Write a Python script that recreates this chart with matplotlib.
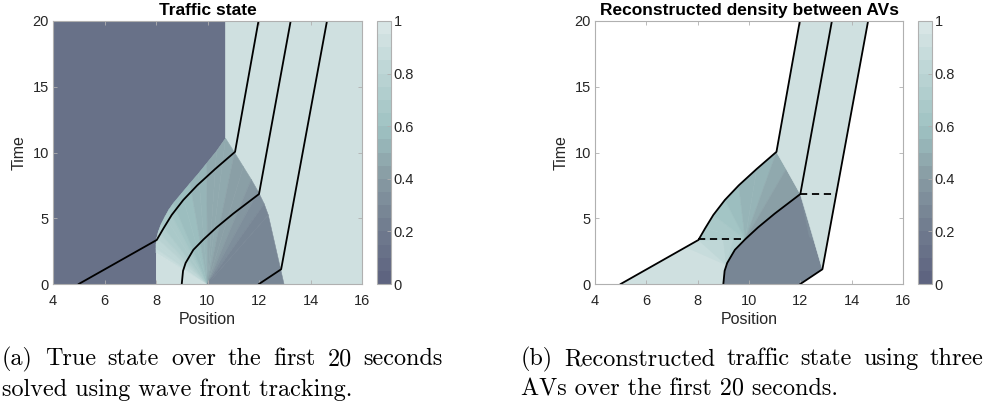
import numpy as np
import matplotlib
matplotlib.use('Agg')
import matplotlib.pyplot as plt
from matplotlib.collections import PolyCollection
from matplotlib.colors import LinearSegmentedColormap, Normalize

plt.rcParams['font.family'] = ['Liberation Sans', 'DejaVu Sans']

W, H = 985, 404

# vehicle (AV) trajectories
traj1_x = [5.0, 8.03, 8.29, 8.61, 9.06, 9.6, 10.3, 11.07, 11.98]
traj1_t = [0.0, 3.35, 4.23, 5.25, 6.39, 7.5, 8.75, 10.05, 20.0]
traj2_x = [9.0, 9.05, 9.15, 9.45, 9.85, 10.35, 11.0, 12.0, 13.23]
traj2_t = [0.0, 1.0, 1.6, 2.6, 3.4, 4.3, 5.35, 6.84, 20.0]
traj3_x = [12.0, 12.86, 14.64]
traj3_t = [0.0, 1.12, 20.0]

# dashed measurement lines in the reconstruction
dash_t = [3.4, 6.84]
dash_x0 = [8.03, 12.0]
dash_x1 = [9.85, 13.40]

# true state: densities
rho_free = 0.10
rho_jam = 0.93
fan_origin = (10.0, 0.0)
# outer boundary of the rarefaction fan (wedges from fan_origin)
fan_x = [8.0, 8.0, 8.0, 8.0, 8.03, 8.09, 8.2, 8.35, 8.5, 8.67, 9.0, 9.32,
         9.65, 9.97, 10.35, 10.7, 11.05, 11.39, 11.7, 11.97, 12.2, 12.36, 12.97]
fan_t = [0.0, 2.38, 2.7, 3.0, 3.5, 3.98, 4.55, 5.12, 5.65, 6.13, 6.9, 7.65,
         8.4, 9.18, 10.1, 11.08, 10.0, 8.92, 7.95, 7.02, 6.1, 5.25, 0.0]
fan_rho = [0.93, 0.88, 0.84, 0.80, 0.76, 0.72, 0.68, 0.65, 0.62, 0.59, 0.56,
           0.53, 0.51, 0.49, 0.47, 0.45, 0.43, 0.40, 0.37, 0.33, 0.29, 0.25]
apex_idx = 15
shock_idx = 3

# reconstruction: lower fan between AV1 and AV2
rec1_focal = (9.12, 1.45)
rec1_x = [7.55, 8.03, 8.5, 9.0, 9.4, 9.85]
rec1_t = [2.8, 3.35, 3.4, 3.4, 3.4, 3.4]
rec1_rho = [0.88, 0.84, 0.80, 0.76, 0.72]
# upper fan between AV1 and AV2
rec2_focal = (9.85, 3.4)
rec2_x = [8.03, 8.29, 8.61, 9.06, 9.6, 10.3, 11.07, 11.45, 12.0]
rec2_t = [3.35, 4.23, 5.25, 6.39, 7.5, 8.75, 10.05, 8.75, 6.84]
rec2_rho = [0.68, 0.65, 0.61, 0.57, 0.53, 0.50, 0.46, 0.42, 0.40]
rho_gap = 0.25
rho_gap_edge = 0.31

cmap = LinearSegmentedColormap.from_list(
    'traffic', [(0, '#5e6480'), (0.2, '#717c8f'), (0.4, '#879ba3'),
                (0.6, '#9fc2c2'), (0.8, '#b9d3d3'), (1, '#d7e5e5')], N=20)
norm = Normalize(0, 1)


def rect(x0, y0, x1, y1):
    return [x0 / W, 1 - y1 / H, (x1 - x0) / W, (y1 - y0) / H]


def add_polys(ax, polys, rhos):
    pc = PolyCollection(polys, cmap=cmap, norm=norm, edgecolors='face', linewidths=0.4)
    pc.set_array(np.array(rhos))
    ax.add_collection(pc)
    return pc


fig = plt.figure(figsize=(W / 100, H / 100), dpi=100)
ax1 = fig.add_axes(rect(53, 21, 362, 284))
cax1 = fig.add_axes(rect(377, 21, 391, 284))
ax2 = fig.add_axes(rect(595, 21, 903, 284))
cax2 = fig.add_axes(rect(918, 21, 932, 284))

# ---- (a) true state
fan = list(zip(fan_x, fan_t))
polys, rhos = [], []
dark = [(4, 0), (8, 0)] + fan[shock_idx:apex_idx + 1] + [(fan_x[apex_idx], 20), (4, 20)]
light = fan[apex_idx:] + [(16, 0), (16, 20), (fan_x[apex_idx], 20)]
polys += [dark, light]
rhos += [rho_free, rho_jam]
for i in range(len(fan) - 1):
    polys.append([fan_origin, fan[i], fan[i + 1]])
    rhos.append(fan_rho[i])
pc1 = add_polys(ax1, polys, rhos)

# ---- (b) reconstruction
t1 = list(zip(traj1_x, traj1_t))
t2 = list(zip(traj2_x, traj2_t))
t3 = list(zip(traj3_x, traj3_t))
polys, rhos = [], []
# between AV1 and AV2, below first dashed line
polys.append(t1[:2] + t2[4::-1])
rhos.append(rho_jam)
r1 = list(zip(rec1_x, rec1_t))
for i in range(len(r1) - 1):
    p = [rec1_focal, r1[i], r1[i + 1]]
    if i == len(r1) - 2:
        p.append(t2[3])
    polys.append(p)
    rhos.append(rec1_rho[i])
# upper fan
r2 = list(zip(rec2_x, rec2_t))
for i in range(len(r2) - 1):
    polys.append([rec2_focal, r2[i], r2[i + 1]])
    rhos.append(rec2_rho[i])
polys.append([rec2_focal, r2[-1], t2[6], t2[5]])
rhos.append(rec2_rho[-1])
# light above the fan
polys.append([t1[7], t1[8], t2[8], t2[7], r2[7]])
rhos.append(rho_jam)
# between AV2 and AV3
polys.append(t2[:8] + [t3[1], t3[0]])
rhos.append(rho_gap)
polys.append([t2[7], (12.55, 3.2), (12.35, 3.6)])
rhos.append(rho_gap_edge)
polys.append([t2[7], t2[8], t3[2], t3[1]])
rhos.append(rho_jam)
pc2 = add_polys(ax2, polys, rhos)

dash_style = dict(color='k', lw=1.3, dashes=(4, 2.6))
for ax in (ax1, ax2):
    for xs, ts in ((traj1_x, traj1_t), (traj2_x, traj2_t), (traj3_x, traj3_t)):
        ax.plot(xs, ts, color='k', lw=1.3, zorder=3)
for t, xa, xb in zip(dash_t, dash_x0, dash_x1):
    ax2.plot([xa, xb], [t, t], zorder=3, **dash_style)

axis_grey = '#b0b0b0'
text_col = '#262626'
for ax, title in ((ax1, 'Traffic state'), (ax2, 'Reconstructed density between AVs')):
    ax.set_xlim(4, 16)
    ax.set_ylim(0, 20)
    ax.set_xticks(range(4, 17, 2))
    ax.set_yticks(range(0, 21, 5))
    ax.tick_params(direction='in', length=3, width=0.6, color=axis_grey,
                   labelsize=10.5, labelcolor=text_col, top=True, right=True)
    ax.tick_params(axis='x', pad=7)
    ax.tick_params(axis='y', pad=3)
    for s in ax.spines.values():
        s.set_color(axis_grey)
        s.set_linewidth(0.8)
        s.set_zorder(4)
    ax.set_xlabel('Position', fontsize=11.5, color=text_col, labelpad=3)
    ax.set_ylabel('Time', fontsize=11.5, color=text_col, labelpad=4)
    ax.set_title(title, fontsize=12.5, fontweight='bold', pad=4)

for cax, pc in ((cax1, pc1), (cax2, pc2)):
    cb = fig.colorbar(pc, cax=cax, ticks=[0, 0.2, 0.4, 0.6, 0.8, 1])
    cb.ax.set_yticklabels(['0', '0.2', '0.4', '0.6', '0.8', '1'])
    cb.outline.set_edgecolor(axis_grey)
    cb.outline.set_linewidth(0.8)
    cax.tick_params(direction='in', length=3, width=0.6, color=axis_grey,
                    labelsize=10.5, labelcolor=text_col, pad=2)

# captions, justified like the LaTeX source
cap_kw = dict(family='cmr10', fontsize=17.4, va='baseline', color='k')
renderer = fig.canvas.get_renderer()


def justify(words, x0, x1, y):
    ts = [fig.text(0, 1 - y / H, w, **cap_kw) for w in words]
    ws = [t.get_window_extent(renderer).width for t in ts]
    gap = max((x1 - x0 - sum(ws)) / (len(words) - 1), 3)
    x = x0
    for t, w in zip(ts, ws):
        t.set_x(x / W)
        x += w + gap


justify('(a) True state over the first 20 seconds'.split(), 2, 443, 365)
fig.text(2 / W, 1 - 396 / H, 'solved using wave front tracking.', **cap_kw)
justify('(b) Reconstructed traffic state using three'.split(), 521, 983, 365)
fig.text(521 / W, 1 - 396 / H, 'AVs over the first 20 seconds.', **cap_kw)

fig.savefig('out.png', dpi=100)
